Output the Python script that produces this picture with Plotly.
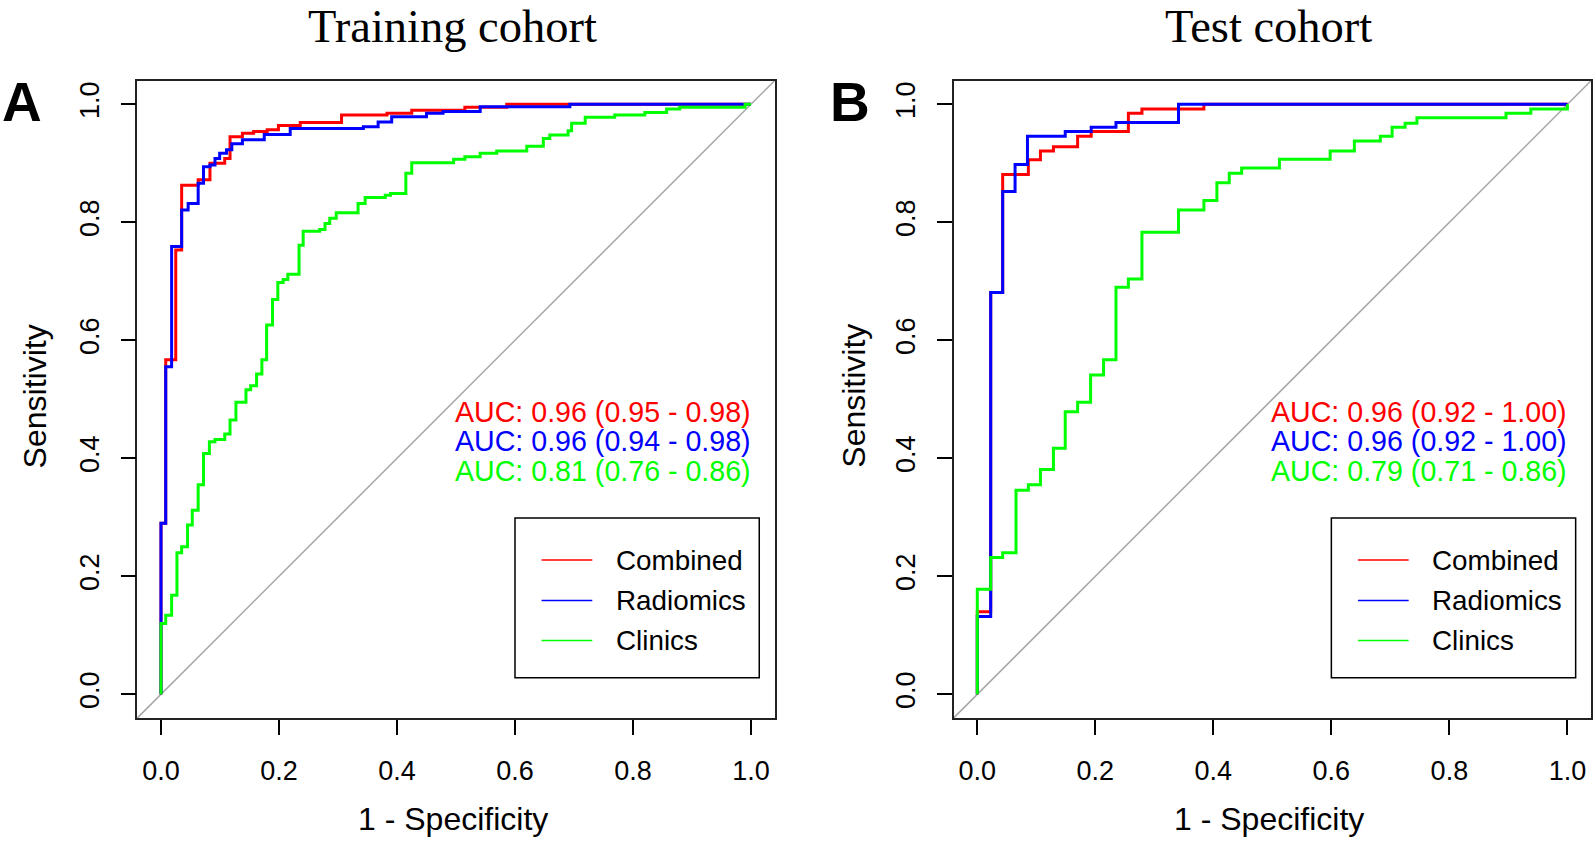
import plotly.graph_objects as go

W, H = 1594, 843

# ---------------- data (1 - specificity, sensitivity) ----------------
TRAIN_COMBINED_FPR = [0, 0, 0.008, 0.008, 0.025, 0.025, 0.035, 0.035, 0.063, 0.063, 0.083, 0.083, 0.108, 0.108,
                      0.117, 0.117, 0.138, 0.138, 0.157, 0.157, 0.180, 0.180, 0.199, 0.199, 0.236, 0.236, 0.306, 0.306,
                      0.383, 0.383, 0.425, 0.425, 0.515, 0.515, 0.586, 0.586, 1.0]
TRAIN_COMBINED_TPR = [0, 0.29, 0.29, 0.567, 0.567, 0.753, 0.753, 0.863, 0.863, 0.872, 0.872, 0.90, 0.90, 0.908,
                      0.908, 0.945, 0.945, 0.951, 0.951, 0.954, 0.954, 0.957, 0.957, 0.964, 0.964, 0.969, 0.969, 0.982,
                      0.982, 0.985, 0.985, 0.990, 0.990, 0.995, 0.995, 1.0, 1.0]

TRAIN_RADIOMICS_FPR = [0, 0, 0.008, 0.008, 0.018, 0.018, 0.035, 0.035, 0.046, 0.046, 0.063, 0.063, 0.072, 0.072,
                       0.083, 0.083, 0.0915, 0.0915, 0.0994, 0.0994, 0.111, 0.111, 0.120, 0.120, 0.138, 0.138,
                       0.175, 0.175, 0.219, 0.219, 0.343, 0.343, 0.368, 0.368, 0.391, 0.391, 0.450, 0.450,
                       0.478, 0.478, 0.541, 0.541, 0.693, 0.693, 1.0]
TRAIN_RADIOMICS_TPR = [0, 0.29, 0.29, 0.555, 0.555, 0.759, 0.759, 0.821, 0.821, 0.832, 0.832, 0.866, 0.866, 0.894,
                       0.894, 0.897, 0.897, 0.908, 0.908, 0.917, 0.917, 0.923, 0.923, 0.933, 0.933, 0.940,
                       0.940, 0.949, 0.949, 0.959, 0.959, 0.962, 0.962, 0.970, 0.970, 0.979, 0.979, 0.985,
                       0.985, 0.988, 0.988, 0.996, 0.996, 1.0, 1.0]

TRAIN_CLINICS_FPR = [0, 0, 0.008, 0.008, 0.018, 0.018, 0.027, 0.027, 0.035, 0.035, 0.045, 0.045, 0.053, 0.053,
                     0.063, 0.063, 0.072, 0.072, 0.082, 0.082, 0.0915, 0.0915, 0.108, 0.108, 0.117, 0.117,
                     0.127, 0.127, 0.144, 0.144, 0.152, 0.152, 0.162, 0.162, 0.171, 0.171, 0.179, 0.179,
                     0.189, 0.189, 0.198, 0.198, 0.207, 0.207, 0.215, 0.215, 0.234, 0.234, 0.241, 0.241,
                     0.269, 0.269, 0.278, 0.278, 0.286, 0.286, 0.297, 0.297, 0.334, 0.334, 0.346, 0.346,
                     0.380, 0.380, 0.389, 0.389, 0.415, 0.415, 0.425, 0.425, 0.496, 0.496, 0.515, 0.515,
                     0.541, 0.541, 0.569, 0.569, 0.620, 0.620, 0.648, 0.648, 0.659, 0.659, 0.690, 0.690,
                     0.696, 0.696, 0.719, 0.719, 0.769, 0.769, 0.820, 0.820, 0.857, 0.857, 0.879, 0.879,
                     0.990, 0.990, 1.0]
TRAIN_CLINICS_TPR = [0, 0.120, 0.120, 0.134, 0.134, 0.168, 0.168, 0.240, 0.240, 0.250, 0.250, 0.287, 0.287, 0.312,
                     0.312, 0.355, 0.355, 0.408, 0.408, 0.428, 0.428, 0.432, 0.432, 0.441, 0.441, 0.465,
                     0.465, 0.495, 0.495, 0.516, 0.516, 0.523, 0.523, 0.543, 0.543, 0.567, 0.567, 0.626,
                     0.626, 0.669, 0.669, 0.698, 0.698, 0.703, 0.703, 0.712, 0.712, 0.761, 0.761, 0.785,
                     0.785, 0.788, 0.788, 0.798, 0.798, 0.807, 0.807, 0.816, 0.816, 0.832, 0.832, 0.842,
                     0.842, 0.846, 0.846, 0.849, 0.849, 0.883, 0.883, 0.901, 0.901, 0.907, 0.907, 0.911,
                     0.911, 0.917, 0.917, 0.921, 0.921, 0.929, 0.929, 0.942, 0.942, 0.948, 0.948, 0.955,
                     0.955, 0.968, 0.968, 0.978, 0.978, 0.982, 0.982, 0.986, 0.986, 0.992, 0.992, 0.995,
                     0.995, 1.0, 1.0]

TEST_COMBINED_FPR = [0, 0, 0.0227, 0.0227, 0.043, 0.043, 0.0865, 0.0865, 0.107, 0.107, 0.129, 0.129, 0.170, 0.170,
                     0.193, 0.193, 0.256, 0.256, 0.279, 0.279, 0.384, 0.384, 1.0]
TEST_COMBINED_TPR = [0, 0.140, 0.140, 0.681, 0.681, 0.881, 0.881, 0.906, 0.906, 0.921, 0.921, 0.928, 0.928, 0.946,
                     0.946, 0.954, 0.954, 0.985, 0.985, 0.992, 0.992, 1.0, 1.0]

TEST_RADIOMICS_FPR = [0, 0, 0.0227, 0.0227, 0.043, 0.043, 0.064, 0.064, 0.085, 0.085, 0.149, 0.149, 0.193, 0.193,
                      0.235, 0.235, 0.341, 0.341, 1.0]
TEST_RADIOMICS_TPR = [0, 0.132, 0.132, 0.681, 0.681, 0.852, 0.852, 0.898, 0.898, 0.946, 0.946, 0.954, 0.954, 0.961,
                      0.961, 0.969, 0.969, 1.0, 1.0]

TEST_CLINICS_FPR = [0, 0, 0.0227, 0.0227, 0.043, 0.043, 0.0656, 0.0656, 0.0865, 0.0865, 0.107, 0.107, 0.129, 0.129,
                    0.149, 0.149, 0.170, 0.170, 0.192, 0.192, 0.214, 0.214, 0.235, 0.235, 0.256, 0.256,
                    0.279, 0.279, 0.341, 0.341, 0.384, 0.384, 0.406, 0.406, 0.427, 0.427, 0.448, 0.448,
                    0.512, 0.512, 0.598, 0.598, 0.639, 0.639, 0.683, 0.683, 0.703, 0.703, 0.725, 0.725,
                    0.745, 0.745, 0.896, 0.896, 0.938, 0.938, 1.0, 1.0]
TEST_CLINICS_TPR = [0, 0.178, 0.178, 0.232, 0.232, 0.240, 0.240, 0.346, 0.346, 0.355, 0.355, 0.381, 0.381, 0.417,
                    0.417, 0.479, 0.479, 0.495, 0.495, 0.541, 0.541, 0.567, 0.567, 0.690, 0.690, 0.704,
                    0.704, 0.783, 0.783, 0.821, 0.821, 0.837, 0.837, 0.867, 0.867, 0.883, 0.883, 0.892,
                    0.892, 0.907, 0.907, 0.921, 0.921, 0.938, 0.938, 0.946, 0.946, 0.961, 0.961, 0.968,
                    0.968, 0.977, 0.977, 0.985, 0.985, 0.992, 0.992, 1.0]

SERIES_NAMES = ["Combined", "Radiomics", "Clinics"]
SERIES_COLORS = ["#FF0000", "#0000FF", "#00FF00"]
TRAIN_AUC = ["AUC: 0.96 (0.95 - 0.98)", "AUC: 0.96 (0.94 - 0.98)", "AUC: 0.81 (0.76 - 0.86)"]
TEST_AUC = ["AUC: 0.96 (0.92 - 1.00)", "AUC: 0.96 (0.92 - 1.00)", "AUC: 0.79 (0.71 - 0.86)"]
PANEL_TITLES = ["Training cohort", "Test cohort"]
PANEL_LETTERS = ["A", "B"]
TICK_VALS = [0.0, 0.2, 0.4, 0.6, 0.8, 1.0]
TICK_TEXT = ["0.0", "0.2", "0.4", "0.6", "0.8", "1.0"]
X_TITLE = "1 - Specificity"
Y_TITLE = "Sensitivity"

# ---------------- layout geometry (pixels) ----------------
SANS = "Liberation Sans, Arial, sans-serif"
SERIF = "Liberation Serif, Times New Roman, serif"
BOX_TOP, BOX_BOTTOM = 80.7, 717.9
PANELS_X = [(137.4, 774.6), (953.7, 1591.0)]


def px(x):
    return x / W


def py(y):
    return 1 - y / H


fig = go.Figure()

panels = [
    ([TRAIN_COMBINED_FPR, TRAIN_RADIOMICS_FPR, TRAIN_CLINICS_FPR],
     [TRAIN_COMBINED_TPR, TRAIN_RADIOMICS_TPR, TRAIN_CLINICS_TPR], TRAIN_AUC),
    ([TEST_COMBINED_FPR, TEST_RADIOMICS_FPR, TEST_CLINICS_FPR],
     [TEST_COMBINED_TPR, TEST_RADIOMICS_TPR, TEST_CLINICS_TPR], TEST_AUC),
]

shapes = []
annotations = []
for i, (xs, ys, aucs) in enumerate(panels):
    xa = "x" if i == 0 else "x2"
    ya = "y" if i == 0 else "y2"
    axname = "xaxis" if i == 0 else "xaxis2"
    ayname = "yaxis" if i == 0 else "yaxis2"
    x0p, x1p = PANELS_X[i]
    common = dict(range=[-0.04, 1.04], tickvals=TICK_VALS, ticktext=TICK_TEXT, ticks="outside",
                  ticklen=15, tickwidth=1.5, tickcolor="black", showgrid=False, zeroline=False,
                  showline=True, mirror=True, linecolor="#222222", linewidth=1.8,
                  tickfont=dict(family=SANS, size=27, color="black"), fixedrange=True)
    fig.update_layout(**{
        axname: dict(domain=[px(x0p), px(x1p)], anchor=ya, ticklabelstandoff=13, **common),
        ayname: dict(domain=[py(BOX_BOTTOM), py(BOX_TOP)], anchor=xa, tickangle=-90,
                     ticklabelstandoff=11, **common),
    })
    # diagonal reference
    shapes.append(dict(type="line", xref=f"{xa} domain", yref=f"{ya} domain", x0=0, y0=0, x1=1, y1=1,
                       line=dict(color="#A6A6A6", width=1.5), layer="below"))
    for name, color, fx, ty in zip(SERIES_NAMES, SERIES_COLORS, xs, ys):
        fig.add_trace(go.Scatter(x=fx, y=ty, mode="lines", name=name, showlegend=False,
                                 line=dict(color=color, width=3), xaxis=xa, yaxis=ya,
                                 hoverinfo="skip"))
    # AUC texts
    for k, (txt, color) in enumerate(zip(aucs, SERIES_COLORS)):
        annotations.append(dict(x=1.003, y=[0.478, 0.429, 0.379][k], xref=xa, yref=ya, text=txt,
                                showarrow=False, xanchor="right", yanchor="middle",
                                font=dict(family=SANS, size=28.6, color=color)))
    # legend box
    shapes.append(dict(type="rect", xref=xa, yref=ya, x0=0.6, x1=1.014, y0=0.028, y1=0.299,
                       line=dict(color="black", width=1.5), fillcolor="white", layer="below"))
    for k, (name, color) in enumerate(zip(SERIES_NAMES, SERIES_COLORS)):
        yy = [0.2275, 0.159, 0.091][k]
        shapes.append(dict(type="line", xref=xa, yref=ya, x0=0.645, x1=0.731, y0=yy, y1=yy,
                           line=dict(color=color, width=1.5)))
        annotations.append(dict(x=0.768, y=yy, xref=xa, yref=ya, text=name, showarrow=False,
                                xanchor="left", yanchor="middle",
                                font=dict(family=SANS, size=27.8, color="black")))
    # axis titles
    cx = (x0p + x1p) / 2
    annotations.append(dict(x=px(cx - 3), y=py(819), xref="paper", yref="paper", text=X_TITLE,
                            showarrow=False, xanchor="center", yanchor="middle",
                            font=dict(family=SANS, size=32, color="black")))
    annotations.append(dict(x=px(x0p - 102 if i == 0 else x0p - 100), y=py(396), xref="paper", yref="paper",
                            text=Y_TITLE, textangle=-90, showarrow=False, xanchor="center", yanchor="middle",
                            font=dict(family=SERIF if False else SANS, size=32, color="black")))
    # panel title
    annotations.append(dict(x=px(cx - 4), y=1.0, xref="paper", yref="paper", text=PANEL_TITLES[i],
                            showarrow=False, xanchor="center", yanchor="top", borderpad=0,
                            font=dict(family=SERIF, size=46.5, color="black")))
    # panel letter
    annotations.append(dict(x=px([22, 850][i]), y=py(102), xref="paper", yref="paper",
                            text=f"<b>{PANEL_LETTERS[i]}</b>", showarrow=False,
                            xanchor="center", yanchor="middle",
                            font=dict(family=SANS, size=55, color="black")))

fig.update_layout(width=W, height=H, margin=dict(l=0, r=0, t=0, b=0, pad=0),
                  paper_bgcolor="white", plot_bgcolor="white", shapes=shapes,
                  annotations=annotations, showlegend=False)

fig.write_html("out.html", config={"displayModeBar": False},
               post_script="document.body.style.margin='0';document.body.style.overflow='hidden';")
